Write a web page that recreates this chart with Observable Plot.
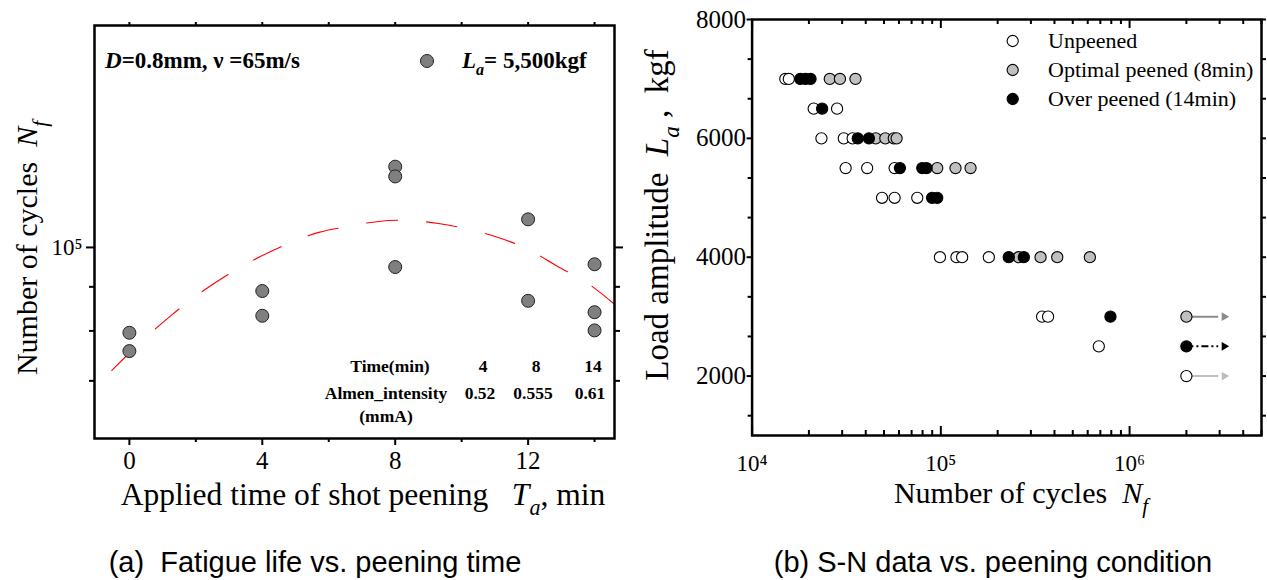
<!DOCTYPE html>
<html><head><meta charset="utf-8">
<script src="https://cdn.jsdelivr.net/npm/d3@7"></script>
<script src="https://cdn.jsdelivr.net/npm/@observablehq/plot@0.6"></script>
<style>
body{margin:0;background:#fff;width:1267px;height:580px;overflow:hidden;position:relative;}
#left{position:absolute;left:0;top:0;}
#right{position:absolute;left:640px;top:0;}
.cap{position:absolute;top:545px;font-family:"Liberation Sans",Arial,sans-serif;font-size:29px;line-height:34px;white-space:pre;transform:translateX(-50%);color:#000;}
</style></head><body>
<div id="left"></div><div id="right"></div>
<div class="cap" style="left:315px">(a)  Fatigue life vs. peening time</div>
<div class="cap" style="left:993px">(b) S-N data vs. peening condition</div>
<script>
// ---------- Panel (a) data ----------
const timeMin  = [0, 0, 4, 4, 8, 8, 8, 12, 12, 14, 14, 14];
const cyclesNf = [79600, 75800, 89000, 83300, 124100, 120900, 94900, 107800, 86700, 95600, 84100, 80100];
// dashed trend curve
const fitTime = [-0.53, 0.37, 1.26, 2.16, 3.07, 3.94, 4.8, 5.7, 6.6, 7.5, 8.4, 9.3, 10.1, 11.1, 12.0, 12.84, 13.8, 14.6];
const fitNf   = [72000, 77800, 83400, 88700, 93500, 97600, 101100, 104100, 105800, 107200, 107500, 106600, 105200, 102700, 99500, 95300, 90800, 85900];
const xTicksMajorA = [0, 4, 8, 12];
const xTicksMinorA = [2, 6, 10, 14];
const yTicksMajorA = [100000];
const yTicksMinorA = [70000, 80000, 90000];
const tableTimes = ["4", "8", "14"];
const tableAlmen = ["0.52", "0.555", "0.61"];

// ---------- Panel (b) data ----------
const unpeenedN = [15000, 15650, 21200, 28200, 23300, 30600, 34100, 31300, 40700, 56900, 48800, 56900, 75000, 98900, 121000, 129700, 179600, 344000, 370000, 687000, 2000000];
const unpeenedL = [7000, 7000, 6500, 6500, 6000, 6000, 6000, 5500, 5500, 5500, 5000, 5000, 5000, 4000, 4000, 4000, 4000, 3000, 3000, 2500, 2000];
const optimalN = [25800, 29200, 35300, 45200, 50800, 56300, 58300, 95700, 119600, 143700, 258600, 337600, 413800, 616000, 2000000];
const optimalL = [7000, 7000, 7000, 6000, 6000, 6000, 6000, 5500, 5500, 5500, 4000, 4000, 4000, 4000, 3000];
const overN = [18000, 19200, 20400, 23500, 36300, 41600, 60700, 79700, 84000, 89900, 95700, 229000, 275200, 792000, 2000000];
const overL = [7000, 7000, 7000, 6500, 6000, 6000, 5500, 5500, 5500, 5000, 5000, 4000, 4000, 3000, 2500];
const runoutN    = [2000000, 2000000, 2000000];
const runoutEndN = [3170000, 3170000, 3170000];
const runoutL    = [3000, 2500, 2000];
const runoutKind = ["optimal", "over", "unpeened"];
const seriesNames = ["Unpeened", "Optimal peened (8min)", "Over peened (14min)"];
const xTicksMajorB = [1e4, 1e5, 1e6];
const xTicksMinorB = [2e4,3e4,4e4,5e4,6e4,7e4,8e4,9e4, 2e5,3e5,4e5,5e5,6e5,7e5,8e5,9e5, 2e6,3e6,4e6,5e6];
const yTicksMajorB = [2000, 4000, 6000, 8000];
const yTicksMinorB = [1333.33, 2666.67, 3333.33, 4666.67, 5333.33, 6666.67, 7333.33];

const SERIF = "Liberation Serif";
const sup = {"4": "\u2074", "5": "\u2075", "6": "\u2076"};

function richText(svg, o, parts) {
  const t = svg.append("text")
    .attr("transform", `translate(${o.x},${o.y}) rotate(${o.rotate || 0})`)
    .attr("text-anchor", o.anchor || "start")
    .attr("font-family", o.family || SERIF)
    .attr("font-size", o.size)
    .attr("font-weight", o.weight || "normal")
    .attr("fill", "#000")
    .style("white-space", "pre");
  let shift = 0;
  parts.forEach(p => {
    if (typeof p === "string") p = {t: p};
    const ts = t.append("tspan").text(p.t);
    if (p.italic) ts.attr("font-style", "italic");
    const want = p.sub ? o.size * 0.32 : 0;
    if (want !== shift) { ts.attr("dy", want - shift); shift = want; }
    if (p.sub) ts.attr("font-size", o.size * 0.7);
  });
  return t;
}

// ---------- Panel (a) ----------
const W1 = 640, H1 = 530;
const ptsA = timeMin.map((t, i) => ({t, n: cyclesNf[i]}));
const fitA = fitTime.map((t, i) => ({t, n: fitNf[i]}));
const axisText = {fontFamily: SERIF, fontVariant: "normal", fill: "#000"};
const chartA = Plot.plot({
  width: W1, height: H1,
  marginLeft: 94, marginRight: 26, marginTop: 25, marginBottom: H1 - 438,
  x: {type: "linear", domain: [-1.05, 14.6]},
  y: {type: "log", domain: [60000, 181000]},
  style: {fontFamily: SERIF, fontSize: "24px", color: "#000", background: "#fff", overflow: "visible"},
  marks: [
    Plot.line(fitA, {x: "t", y: "n", stroke: "#ff0000", strokeWidth: 1.1, strokeDasharray: "31,29", curve: "catmull-rom"}),
    Plot.dot(ptsA, {x: "t", y: "n", r: 6.5, fill: "#7f7f7f", stroke: "#222", strokeWidth: 1}),
    Plot.frame({stroke: "#000", strokeWidth: 2.5}),
    Plot.axisX(xTicksMajorA, {anchor: "bottom", tickSize: 7, tickPadding: 6, strokeWidth: 2, tickFormat: d => String(d), label: null, fontSize: 25, ...axisText}),
    Plot.axisX(xTicksMinorA, {anchor: "bottom", tickSize: 4, strokeWidth: 2, tickFormat: () => "", label: null}),
    Plot.axisX(xTicksMajorA.concat(xTicksMinorA), {anchor: "top", tickSize: 4, strokeWidth: 2, tickFormat: () => "", label: null}),
    Plot.axisY(yTicksMajorA, {anchor: "left", tickSize: 8, tickPadding: 4, strokeWidth: 2, tickFormat: () => "10" + sup["5"], label: null, fontSize: 23, ...axisText}),
    Plot.axisY(yTicksMinorA, {anchor: "left", tickSize: 5, strokeWidth: 2, tickFormat: () => "", label: null}),
    Plot.axisY(yTicksMajorA, {anchor: "right", tickSize: 8, strokeWidth: 2, tickFormat: () => "", label: null}),
    Plot.axisY(yTicksMinorA, {anchor: "right", tickSize: 5, strokeWidth: 2, tickFormat: () => "", label: null})
  ]
});
document.getElementById("left").appendChild(chartA);
const sA = d3.select(chartA);
richText(sA, {x: 363, y: 505, anchor: "middle", size: 31.5}, ["Applied time of shot peening   ", {t: "T", italic: true}, {t: "a", italic: true, sub: true}, ", min"]);
richText(sA, {x: 37, y: 248, anchor: "middle", size: 30, rotate: -90}, ["Number of cycles  ", {t: "N", italic: true}, {t: "f", italic: true, sub: true}]);
richText(sA, {x: 105, y: 68, size: 23, weight: "bold"}, [{t: "D", italic: true}, "=0.8mm, \u03bd =65m/s"]);
sA.append("circle").attr("cx", 427).attr("cy", 61).attr("r", 6.5).attr("fill", "#7f7f7f").attr("stroke", "#222");
richText(sA, {x: 462, y: 68, size: 23, weight: "bold"}, [{t: "L", italic: true}, {t: "a", italic: true, sub: true}, "= 5,500kgf"]);
const colX = [483, 536, 593];
richText(sA, {x: 390, y: 372, anchor: "middle", size: 17.5, weight: "bold"}, ["Time(min)"]);
richText(sA, {x: 386, y: 399, anchor: "middle", size: 17.5, weight: "bold"}, ["Almen_intensity"]);
richText(sA, {x: 386, y: 422, anchor: "middle", size: 17.5, weight: "bold"}, ["(mmA)"]);
tableTimes.forEach((v, i) => richText(sA, {x: colX[i], y: 372, anchor: "middle", size: 17.5, weight: "bold"}, [v]));
tableAlmen.forEach((v, i) => richText(sA, {x: colX[i] - 3, y: 399, anchor: "middle", size: 17.5, weight: "bold"}, [v]));

// ---------- Panel (b) ----------
const W2 = 627, H2 = 530;
const mk = (N, L) => N.map((n, i) => ({n, l: L[i]}));
const runs = runoutN.map((n, i) => ({n, n2: runoutEndN[i], l: runoutL[i], kind: runoutKind[i]}));
const arrowColor = {optimal: "#8a8a8a", over: "#000", unpeened: "#bdbdbd"};
const frameTop = 19, frameBottom = 435, frameH = frameBottom - frameTop;
const chartB = Plot.plot({
  width: W2, height: H2,
  marginLeft: 111.6, marginRight: 6, marginTop: frameTop, marginBottom: H2 - frameBottom,
  x: {type: "log", domain: [1e4, 5e6]},
  y: {type: "linear", domain: [1000, 8000]},
  style: {fontFamily: SERIF, fontSize: "24px", color: "#000", background: "#fff", overflow: "visible"},
  marks: [
    ...runoutKind.map(k => Plot.link(runs.filter(d => d.kind === k), {
      x1: "n", x2: d => d.n2 * 0.93, y1: "l", y2: "l", stroke: arrowColor[k], strokeWidth: 2,
      strokeDasharray: k === "over" ? "7,3,2,3" : null})),
    Plot.dot(runs, {x: "n2", y: "l", symbol: "triangle", rotate: 90, r: 3.2, fill: d => arrowColor[d.kind], stroke: "none"}),
    Plot.dot(mk(unpeenedN, unpeenedL), {x: "n", y: "l", r: 5.6, fill: "#fff", stroke: "#000", strokeWidth: 1.1}),
    Plot.dot(mk(optimalN, optimalL), {x: "n", y: "l", r: 5.6, fill: "#c0c0c0", stroke: "#000", strokeWidth: 1.1}),
    Plot.dot(mk(overN, overL), {x: "n", y: "l", r: 5.6, fill: "#000", stroke: "#000", strokeWidth: 1.1}),
    Plot.frame({stroke: "#000", strokeWidth: 2.5}),
    Plot.tickX(xTicksMajorB, {x: d => d, insetTop: frameH - 9, stroke: "#000", strokeWidth: 2}),
    Plot.tickX(xTicksMinorB, {x: d => d, insetTop: frameH - 5, stroke: "#000", strokeWidth: 2}),
    Plot.tickX(xTicksMajorB, {x: d => d, insetBottom: frameH - 9, stroke: "#000", strokeWidth: 2}),
    Plot.tickX(xTicksMinorB, {x: d => d, insetBottom: frameH - 5, stroke: "#000", strokeWidth: 2}),
    Plot.axisX(xTicksMajorB, {anchor: "bottom", tickSize: 0, tickPadding: 19, tickFormat: d => "10" + sup[String(Math.round(Math.log10(d)))], label: null, fontSize: 23, ...axisText}),
    Plot.axisY(yTicksMajorB, {anchor: "left", tickSize: 5, tickPadding: 1, strokeWidth: 2, label: null, fontSize: 25, tickFormat: d => String(d), ...axisText}),
    Plot.axisY(yTicksMinorB, {anchor: "left", tickSize: 4, strokeWidth: 2, label: null, tickFormat: () => ""}),
    Plot.axisY(yTicksMajorB.concat(yTicksMinorB), {anchor: "right", tickSize: 4, strokeWidth: 2, label: null, tickFormat: () => ""})
  ]
});
document.getElementById("right").appendChild(chartB);
const sB = d3.select(chartB);
richText(sB, {x: 381, y: 503, anchor: "middle", size: 30}, ["Number of cycles  ", {t: "N", italic: true}, {t: "f", italic: true, sub: true}]);
richText(sB, {x: 28, y: 215, anchor: "middle", size: 33, rotate: -90}, ["Load amplitude  ", {t: "L", italic: true}, {t: "a", italic: true, sub: true}, " ,  kgf"]);
const legFill = ["#fff", "#c0c0c0", "#000"];
const legY = [41, 70, 99];
seriesNames.forEach((name, i) => {
  sB.append("circle").attr("cx", 372.7).attr("cy", legY[i]).attr("r", 5.6).attr("fill", legFill[i]).attr("stroke", "#000").attr("stroke-width", 1.1);
  richText(sB, {x: 408, y: legY[i] + 7, size: 22}, [name]);
});
// make sure every label uses the serif face
d3.selectAll("#left text, #right text").style("font-family", "'Liberation Serif', serif").style("font-variant", "normal");
</script>
</body></html>
